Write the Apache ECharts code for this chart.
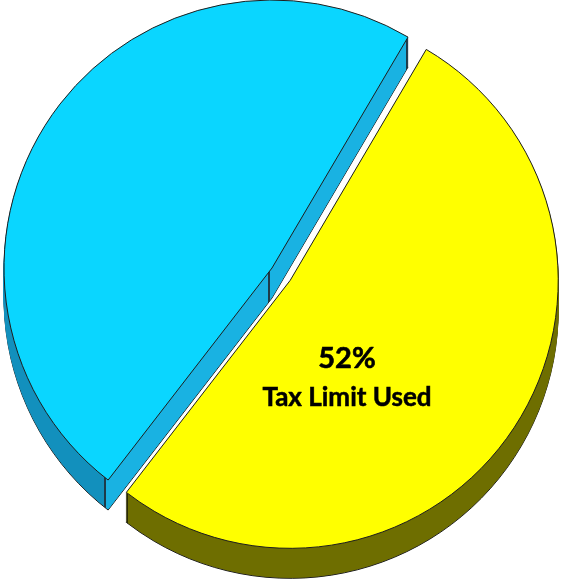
<!DOCTYPE html>
<html>
<head>
<meta charset="utf-8">
<script src="https://cdn.jsdelivr.net/npm/echarts@6/dist/echarts.min.js"></script>
<style>
  html, body { margin: 0; padding: 0; background: #ffffff; }
  #chart { width: 567px; height: 582px; }
</style>
</head>
<body>
<div id="chart"></div>
<script>
// Share of the tax limit
const categories = ['Tax Limit Used', 'Tax Limit Remaining'];
const values = [52, 48];
const topColors = ['#FFFF00', '#0AD6FF'];

// Layout of the extruded pie
const cx = 272, cy = 268, radius = 268, depth = 30, explode = 22;

// Wall shading: horizontal gradients so the outer rim, the cut face and the
// vertical edges read differently
const edge = '#1e3a48';
const cyanWall = new echarts.graphic.LinearGradient(0, 0, 1, 0, [
  { offset: 0, color: '#1290BD' },
  { offset: 0.247, color: '#1290BD' },
  { offset: 0.248, color: edge },
  { offset: 0.253, color: edge },
  { offset: 0.254, color: '#19B2E2' },
  { offset: 0.652, color: '#19B2E2' },
  { offset: 0.653, color: edge },
  { offset: 0.657, color: edge },
  { offset: 0.658, color: '#19B2E2' },
  { offset: 0.994, color: '#19B2E2' },
  { offset: 0.995, color: edge },
  { offset: 1, color: edge }
]);
const yellowWall = new echarts.graphic.LinearGradient(0, 0, 1, 0, [
  { offset: 0, color: '#2a2a00' },
  { offset: 0.004, color: '#2a2a00' },
  { offset: 0.005, color: '#6E6E00' },
  { offset: 1, color: '#6E6E00' }
]);
const sideColors = [yellowWall, cyanWall];

const chart = echarts.init(document.getElementById('chart'), null, { renderer: 'canvas' });

function pieLayer(offsetY, colors, outline) {
  return {
    type: 'pie',
    z: 2,
    center: [cx, cy + offsetY],
    radius: radius,
    startAngle: 59.5,
    clockwise: true,
    selectedMode: 'single',
    selectedOffset: explode,
    silent: true,
    animation: false,
    emphasis: { disabled: true },
    label: { show: false },
    labelLine: { show: false },
    data: categories.map((name, i) => ({
      name: name,
      value: values[i],
      selected: i === 0,
      itemStyle: {
        color: colors[i],
        borderColor: outline ? '#1e1e1e' : colors[i],
        borderWidth: outline ? 1 : 0.6
      }
    }))
  };
}

// Side walls: stacked copies from the bottom up, then the top face
const series = [];
for (let k = depth; k >= 1; k--) {
  series.push(pieLayer(k, sideColors, k === depth));
}
series.push(pieLayer(0, topColors, true));

chart.setOption({
  animation: false,
  series: series,
  graphic: [{
    type: 'text',
    z: 100,
    x: 347,
    y: 359,
    silent: true,
    style: {
      text: values[0] + '%',
      align: 'center',
      verticalAlign: 'middle',
      font: 'bold 29px Lato',
      fill: '#000000',
      stroke: '#000000',
      lineWidth: 0.6
    }
  }, {
    type: 'text',
    z: 100,
    x: 347,
    y: 398,
    silent: true,
    style: {
      text: categories[0],
      align: 'center',
      verticalAlign: 'middle',
      font: 'bold 26px Lato',
      fill: '#000000',
      stroke: '#000000',
      lineWidth: 0.5
    }
  }]
});
</script>
</body>
</html>
